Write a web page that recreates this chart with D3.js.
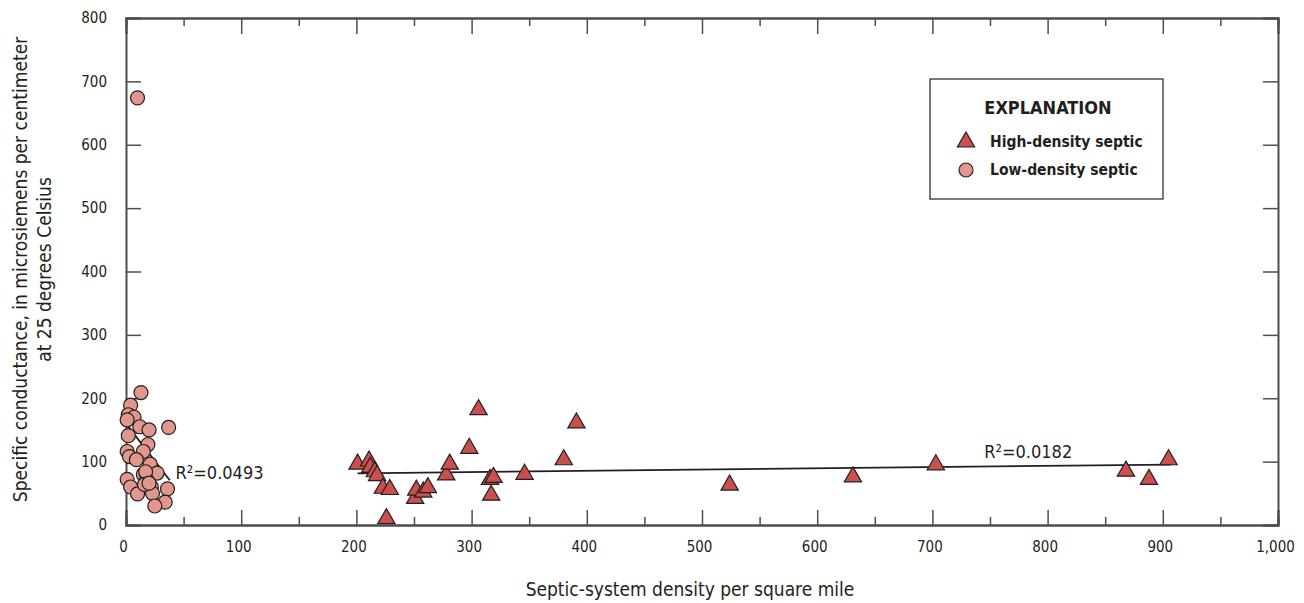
<!DOCTYPE html>
<html>
<head>
<meta charset="utf-8">
<script src="https://cdn.jsdelivr.net/npm/d3@7"></script>
<style>
  body { margin: 0; background: #fff; }
  svg { display: block; }
  text { font-family: "Liberation Sans Narrow", "DejaVu Sans Condensed", sans-serif; fill: #231f20; }
</style>
</head>
<body>
<svg id="canvas"></svg>
<script>
// ---- data ----
const lowX = [13, 4, 2, 7, 1, 12, 20, 37, 2, 19, 15, 1, 3, 9, 21, 27, 15, 1, 18, 17, 22, 4, 36, 10, 23, 34, 25, 10, 16, 20];
const lowY = [209, 189, 174, 170, 166, 155, 150, 154, 141, 127, 116, 116, 108, 103, 96, 82, 80, 72, 71, 84, 60, 60, 57, 49, 50, 36, 30, 674, 64, 66];

const highX = [201, 211, 212, 216, 218, 223, 229, 226, 251, 252, 258, 262, 278, 281, 298, 306, 317, 316, 319, 346, 380, 391, 524, 631, 703, 868, 888, 905];
const highY = [96, 101, 91, 84, 78, 58, 56, 10, 42, 55, 52, 59, 79, 96, 121, 182, 47, 72, 75, 80, 103, 161, 63, 76, 95, 85, 72, 103];

// trend lines (endpoints in data units) and their labels
const lowFit = [[0, 160], [38, 70.5]];
const highFit = [[201, 81.6], [907, 95.4]];
const fitLabels = [
  { x: 43, y: 72, text: "R²=0.0493" },
  { x: 745, y: 105, text: "R²=0.0182" },
];

const xTicks = [0, 100, 200, 300, 400, 500, 600, 700, 800, 900, 1000];
const xMinor = [50, 150, 250, 350, 450, 550, 650, 750, 850, 950];
const yTicks = [0, 100, 200, 300, 400, 500, 600, 700, 800];

const seriesNames = ["High-density septic", "Low-density septic"];

// ---- layout ----
const WIDTH = 1304;
const HEIGHT = 603;
const M = { top: 18, right: 26, bottom: 78, left: 126 };
const TRI_FILL = "#c9504d";
const CIRC_FILL = "#e1978b";
const INK = "#231f20";
const AXIS = "#4d4d4f";

const canvas = d3.select("#canvas").attr("width", WIDTH).attr("height", HEIGHT);

const xScale = d3.scaleLinear().domain([0, 1000]).range([M.left, WIDTH - M.right]);
const yScale = d3.scaleLinear().domain([0, 800]).range([HEIGHT - M.bottom, M.top]);

const fmt = (d) => (d >= 1000 ? d3.format(",")(d) : d);

// frame ticks, all pointing inward
const drawAxes = () => {
  const bottom = HEIGHT - M.bottom;
  const right = WIDTH - M.right;

  canvas.append("g")
    .attr("transform", "translate(0," + bottom + ")")
    .call(d3.axisBottom(xScale).tickValues(xTicks).tickSize(-15).tickPadding(16).tickFormat(fmt))
    .call((g) => g.selectAll("text").attr("dx", -3));
  canvas.append("g")
    .attr("transform", "translate(0," + bottom + ")")
    .call(d3.axisBottom(xScale).tickValues(xMinor).tickSize(-8).tickFormat(""));

  canvas.append("g")
    .attr("transform", "translate(0," + M.top + ")")
    .call(d3.axisTop(xScale).tickValues(xTicks).tickSize(-16).tickFormat(""));
  canvas.append("g")
    .attr("transform", "translate(0," + M.top + ")")
    .call(d3.axisTop(xScale).tickValues(xMinor).tickSize(-8).tickFormat(""));

  canvas.append("g")
    .attr("transform", "translate(" + M.left + ",0)")
    .call(d3.axisLeft(yScale).tickValues(yTicks).tickSize(-15).tickPadding(19));
  canvas.append("g")
    .attr("transform", "translate(" + right + ",0)")
    .call(d3.axisRight(yScale).tickValues(yTicks).tickSize(-15).tickFormat(""));

  canvas.selectAll(".domain").attr("stroke", AXIS).attr("stroke-width", 2);
  canvas.selectAll(".tick line").attr("stroke", AXIS).attr("stroke-width", 1.5);
  canvas.selectAll(".tick text")
    .style("font-family", '"Liberation Sans Narrow", "DejaVu Sans Condensed", sans-serif')
    .style("font-size", "15px")
    .attr("fill", INK);

  // axis titles
  canvas.append("text")
    .attr("x", (M.left + right) / 2 - 12)
    .attr("y", 596)
    .attr("text-anchor", "middle")
    .style("font-size", "19px")
    .text("Septic-system density per square mile");

  const ty = canvas.append("g")
    .attr("transform", "translate(0," + ((M.top + bottom) / 2 - 2) + ") rotate(-90)");
  ty.append("text")
    .attr("x", 0).attr("y", 27)
    .attr("text-anchor", "middle")
    .style("font-size", "19px")
    .text("Specific conductance, in microsiemens per centimeter");
  ty.append("text")
    .attr("x", 0).attr("y", 51)
    .attr("text-anchor", "middle")
    .style("font-size", "19px")
    .text("at 25 degrees Celsius");
};

const line = d3.line().x((d) => xScale(d[0])).y((d) => yScale(d[1]));
const triangle = d3.symbol().type(d3.symbolTriangle).size(130);

const drawPoints = () => {
  // trend lines sit under the markers
  [lowFit, highFit].forEach((f) => {
    canvas.append("path").attr("d", line(f))
      .attr("fill", "none").attr("stroke", INK).attr("stroke-width", 1.8);
  });

  canvas.append("g").selectAll("circle")
    .data(d3.zip(lowX, lowY))
    .enter()
    .append("circle")
    .attr("cx", (d) => xScale(d[0]))
    .attr("cy", (d) => yScale(d[1]))
    .attr("r", 7)
    .attr("fill", CIRC_FILL)
    .attr("stroke", INK)
    .attr("stroke-width", 1.2);

  canvas.append("g").selectAll("path")
    .data(d3.zip(highX, highY))
    .enter()
    .append("path")
    .attr("d", triangle)
    .attr("transform", (d) => "translate(" + xScale(d[0]) + "," + yScale(d[1]) + ")")
    .attr("fill", TRI_FILL)
    .attr("stroke", INK)
    .attr("stroke-width", 1.2);

  canvas.selectAll(".fit-label")
    .data(fitLabels)
    .enter()
    .append("text")
    .attr("class", "fit-label")
    .attr("x", (d) => xScale(d.x))
    .attr("y", (d) => yScale(d.y))
    .style("font-size", "18px")
    .text((d) => d.text);
};

const drawLegend = () => {
  const lg = canvas.append("g").attr("transform", "translate(930,79)");
  lg.append("rect")
    .attr("width", 233).attr("height", 120)
    .attr("fill", "#fff").attr("stroke", INK).attr("stroke-width", 1.2);
  lg.append("text")
    .attr("x", 118).attr("y", 35)
    .attr("text-anchor", "middle")
    .style("font-size", "18px").style("font-weight", "bold")
    .text("EXPLANATION");

  lg.append("path")
    .attr("d", triangle)
    .attr("transform", "translate(36,63)")
    .attr("fill", TRI_FILL).attr("stroke", INK).attr("stroke-width", 1.2);
  lg.append("circle")
    .attr("cx", 36).attr("cy", 91).attr("r", 7)
    .attr("fill", CIRC_FILL).attr("stroke", INK).attr("stroke-width", 1.2);

  lg.selectAll(".lg-label")
    .data(seriesNames)
    .enter()
    .append("text")
    .attr("class", "lg-label")
    .attr("x", 60)
    .attr("y", (d, i) => 68 + i * 28)
    .style("font-size", "15.5px").style("font-weight", "bold")
    .text((d) => d);
};

drawAxes();
drawPoints();
drawLegend();
</script>
</body>
</html>
